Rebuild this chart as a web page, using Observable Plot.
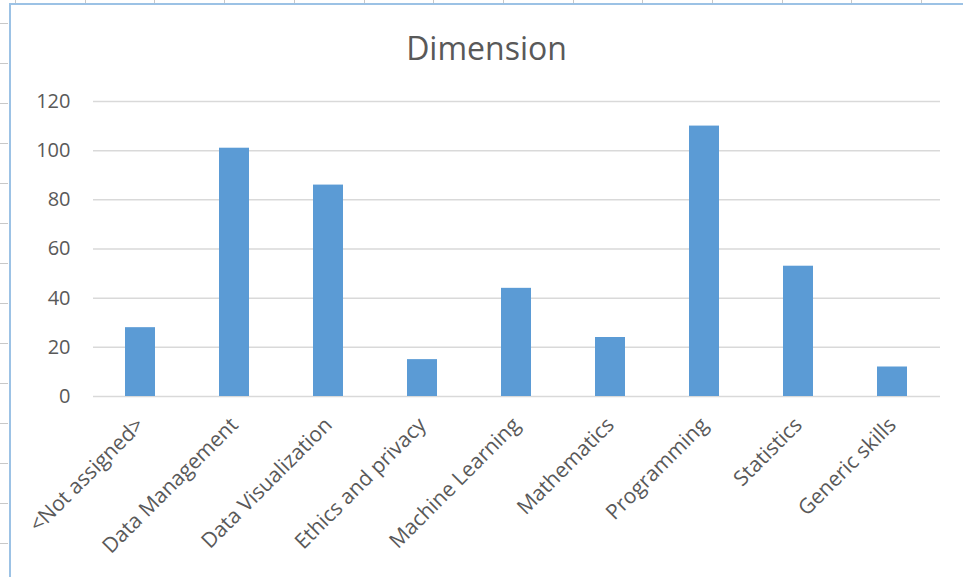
<!DOCTYPE html>
<html>
<head>
<meta charset="utf-8">
<script src="https://cdn.jsdelivr.net/npm/d3@7"></script>
<script src="https://cdn.jsdelivr.net/npm/@observablehq/plot@0.6"></script>
<style>
  body { margin: 0; background: #fff; }
  #wrap { position: relative; width: 963px; height: 577px; overflow: hidden; font-family: "Open Sans", sans-serif; }
  #frame { position: absolute; left: 9px; top: 3px; right: -5px; bottom: -5px; border-left: 2px solid #9cc2e5; border-top: 2px solid #9cc2e5; }
  #title { position: absolute; left: 10px; width: 953px; top: 26px; text-align: center; font-size: 32px; color: #595959; }
  #chart { position: absolute; left: 0; top: 0; }
  .deco { position: absolute; background: #c8c8c8; }
</style>
</head>
<body>
<div id="wrap">
  <div id="frame"></div>
  <div id="title">Dimension</div>
  <div id="chart"></div>
</div>
<script>
const categories = ["<Not assigned>", "Data Management", "Data Visualization", "Ethics and privacy", "Machine Learning", "Mathematics", "Programming", "Statistics", "Generic skills"];
const counts = [28, 101, 86, 15, 44, 24, 110, 53, 12];
const yTicks = [0, 20, 40, 60, 80, 100, 120];

const data = categories.map((c, i) => ({category: c, count: counts[i]}));

const chart = Plot.plot({
  width: 963,
  height: 577,
  marginTop: 101,
  marginBottom: 181,
  marginLeft: 93,
  marginRight: 23,
  style: {fontFamily: '"Open Sans", sans-serif', fontSize: "20px", color: "#595959", background: "transparent", overflow: "visible"},
  x: {domain: categories, paddingInner: 0.68, paddingOuter: 0.34, label: null},
  y: {domain: [0, 120], label: null},
  marks: [
    Plot.gridY(yTicks, {stroke: "#d9d9d9", strokeOpacity: 1, strokeWidth: 1.5}),
    Plot.barY(data, {x: "category", y: "count", fill: "#5b9bd5"}),
    Plot.axisY(yTicks, {tickSize: 0, tickPadding: 23, label: null, fill: "#595959"}),
    Plot.axisX({tickSize: 0, tickPadding: 25, tickRotate: -45, label: null, fill: "#595959", fontSize: 21})
  ]
});
document.getElementById("chart").appendChild(chart);

// spreadsheet background tick marks (decoration)
const wrap = document.getElementById("wrap");
for (let y = 23; y < 577; y += 40) {
  const d = document.createElement("div");
  d.className = "deco";
  Object.assign(d.style, {left: "0px", top: y + "px", width: "8px", height: "1px"});
  wrap.appendChild(d);
}
for (let x = 15; x < 963; x += 69.7) {
  const d = document.createElement("div");
  d.className = "deco";
  Object.assign(d.style, {left: Math.round(x) + "px", top: "0px", width: "1px", height: "3px"});
  wrap.appendChild(d);
}
</script>
</body>
</html>
